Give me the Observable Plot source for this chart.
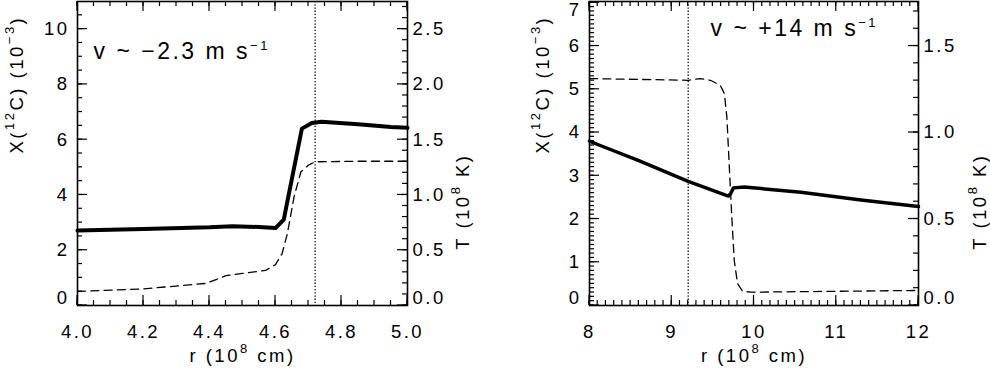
<!DOCTYPE html>
<html><head><meta charset="utf-8">
<script src="https://cdn.jsdelivr.net/npm/d3@7"></script>
<script src="https://cdn.jsdelivr.net/npm/@observablehq/plot@0.6"></script>
<style>
body{margin:0;background:#fff;}
#wrap{position:relative;width:990px;height:372px;overflow:hidden;}
#wrap > div{position:absolute;top:0;}
</style></head><body>
<div id="wrap"><div id="left" style="left:0"></div><div id="right" style="left:495px"></div></div>
<script>
// ---- data ----
const leftR_X = [4.00, 4.20, 4.40, 4.47, 4.55, 4.60, 4.625, 4.68, 4.71, 4.74, 4.85, 4.95, 5.00];
const leftX   = [2.71, 2.77, 2.83, 2.87, 2.84, 2.80, 3.11, 6.40, 6.60, 6.65, 6.56, 6.46, 6.43];
const leftR_T = [4.00, 4.20, 4.39, 4.45, 4.50, 4.57, 4.60, 4.62, 4.636, 4.656, 4.677, 4.70, 4.72, 4.85, 5.00];
const leftT   = [0.127, 0.150, 0.200, 0.270, 0.290, 0.317, 0.370, 0.470, 0.650, 0.980, 1.210, 1.270, 1.300, 1.305, 1.305];

const rightR_X = [8.00, 8.13, 8.60, 9.20, 9.63, 9.69, 9.72, 9.75, 9.88, 10.57, 11.30, 12.00];
const rightX   = [3.80, 3.70, 3.35, 2.87, 2.57, 2.53, 2.60, 2.72, 2.74, 2.62, 2.44, 2.29];
const rightR_T = [8.00, 9.20, 9.35, 9.47, 9.59, 9.64, 9.67, 9.70, 9.73, 9.76, 9.80, 9.86, 9.96, 12.00];
const rightT   = [1.312, 1.302, 1.312, 1.302, 1.273, 1.225, 1.090, 0.800, 0.510, 0.260, 0.126, 0.083, 0.077, 0.087];

const leftXTicks = [4.0, 4.2, 4.4, 4.6, 4.8, 5.0];
const rightXTicks = [8, 9, 10, 11, 12];
const leftYTicks = [0, 2, 4, 6, 8, 10];
const rightYTicks = [0, 1, 2, 3, 4, 5, 6, 7];
const leftTTicks = [0, 0.5, 1.0, 1.5, 2.0, 2.5];
const rightTTicks = [0, 0.5, 1.0, 1.5];

const leftVLine = 4.72;
const rightVLine = 9.2;
const leftNote = "v ~ \u22122.3 m s^{\u22121}";
const rightNote = "v ~ +14 m s^{\u22121}";
const xTitle = "r (10^{8} cm)";
const yTitle = "X(^{12}C) (10^{\u22123})";
const tTitle = "T (10^{8} K)";
const T_TO_X = 4; // right axis T is X/4

const FONT = "'Liberation Sans', Arial, Helvetica, sans-serif";
const FS = 18.5;

function applySup(svg) {
  d3.select(svg).selectAll("text").each(function () {
    const s = this.textContent;
    if (!s || !s.includes("^{")) return;
    const fs = parseFloat(this.getAttribute("font-size")) || parseFloat(getComputedStyle(this).fontSize) || 18;
    const parts = s.split(/(\^\{[^}]*\})/).filter(p => p.length);
    const el = d3.select(this);
    el.text(null);
    for (const p of parts) {
      if (p.startsWith("^{")) {
        el.append("tspan").attr("font-size", (fs * 0.72) + "px")
          .attr("baseline-shift", (fs * 0.5) + "px").text(p.slice(2, -1));
      } else {
        el.append("tspan").text(p);
      }
    }
  });
}

// inward IDL-style tick marks on all four sides, positioned by the plot's own scales
function addTicks(svg, c, box) {
  const sx = svg.scale("x"), sy = svg.scale("y");
  const g = d3.select(svg).append("g").attr("stroke", "black").attr("stroke-width", 1.2).attr("fill", "none");
  const seg = (a, b, p, q) => g.append("line").attr("x1", a).attr("y1", b).attr("x2", p).attr("y2", q);
  const xs = (vals, len) => vals.forEach(v => {
    const X = sx.apply(v);
    seg(X, box.bottom, X, box.bottom - len);
    seg(X, box.top, X, box.top + len);
  });
  const ysL = (vals, len) => vals.forEach(v => { const Y = sy.apply(v); seg(box.left, Y, box.left + len, Y); });
  const ysR = (vals, len) => vals.forEach(v => { const Y = sy.apply(v * T_TO_X); seg(box.right, Y, box.right - len, Y); });
  xs(c.xMinor, 5); xs(c.xTicks, 10);
  ysL(c.yMinor, 5); ysL(c.yTicks, 10);
  ysR(c.tMinor, 5); ysR(c.tTicks, 10);
}

function makePanel(c) {
  const H = 372, mt = 1, mb = 67;
  const [y0] = c.yDomain;
  const inner = c.yTicks.filter(d => d !== y0 && d !== c.yTopShift);
  const tVals = c.tTicks.map(t => t * T_TO_X);
  const xs = c.rX.map((r, i) => ({r, v: c.X[i]}));
  const ts = c.rT.map((r, i) => ({r, v: c.T[i] * T_TO_X}));
  const yFmt = d => String(d);
  const tFmt = d => (d / T_TO_X).toFixed(1);
  const axOpt = {tickSize: 0, fontSize: FS, label: null};
  const marks = [
    Plot.ruleX([c.vline], {x: d => d, strokeDasharray: "1.3,1.9", strokeWidth: 1.3}),
    Plot.line(ts, {x: "r", y: "v", strokeDasharray: "8,5.3", strokeWidth: 1.3}),
    Plot.line(xs, {x: "r", y: "v", strokeWidth: c.lw, strokeLinejoin: "round"}),
    Plot.frame({strokeWidth: 1.6}),
    Plot.axisX(c.xTicks, {...axOpt, tickFormat: c.xFmt, tickPadding: 19}),
    // left axis labels (IDL keeps the edge labels inside the axis extent)
    Plot.axisY(inner, {...axOpt, anchor: "left", tickFormat: yFmt, tickPadding: 8}),
    Plot.axisY([y0], {...axOpt, anchor: "left", tickFormat: yFmt, tickPadding: 8, dy: -7}),
    // right axis (temperature) labels
    Plot.axisY(tVals.filter(d => d !== y0), {...axOpt, anchor: "right", tickFormat: tFmt, tickPadding: 5}),
    Plot.axisY([y0], {...axOpt, anchor: "right", tickFormat: tFmt, tickPadding: 5, dy: -7}),
    Plot.text([xTitle], {text: d => d, frameAnchor: "bottom", dy: 56, fontSize: FS}),
    Plot.text([yTitle], {text: d => d, frameAnchor: "left", dx: c.yTitleDx, rotate: -90, fontSize: FS}),
    Plot.text([tTitle], {text: d => d, frameAnchor: "right", dx: c.tTitleDx, rotate: -90, fontSize: FS}),
    Plot.text([c.note], {text: d => d, frameAnchor: "top-left", dx: c.noteDx, dy: c.noteDy, lineAnchor: "bottom", textAnchor: "start", fontSize: 23})
  ];
  if (c.yTopShift != null) {
    marks.push(Plot.axisY([c.yTopShift], {...axOpt, anchor: "left", tickFormat: yFmt, tickPadding: 8, dy: 7}));
  }
  const svg = Plot.plot({
    width: c.width, height: H,
    marginLeft: c.ml, marginRight: c.mr, marginTop: mt, marginBottom: mb,
    x: {domain: c.xDomain}, y: {domain: c.yDomain},
    style: `font-family: ${FONT}; letter-spacing: 2.5px; background: white; color: black; overflow: visible;`,
    marks
  });
  addTicks(svg, c, {left: c.ml, right: c.width - c.mr, top: mt, bottom: H - mb});
  applySup(svg);
  return svg;
}

document.getElementById("left").appendChild(makePanel({
  width: 495, ml: 77, mr: 88,
  xDomain: [4, 5], yDomain: [0, 11],
  xTicks: leftXTicks, xMinor: d3.range(4, 5.0001, 0.05), xFmt: d3.format(".1f"),
  yTicks: leftYTicks, yMinor: d3.range(0, 11, 0.5),
  tTicks: leftTTicks, tMinor: d3.range(0, 2.75, 0.1),
  rX: leftR_X, X: leftX, rT: leftR_T, T: leftT,
  vline: leftVLine, note: leftNote, noteDx: 16, noteDy: 57,
  yTitleDx: -60, tTitleDx: 56, lw: 4, yTopShift: null
}));
document.getElementById("right").appendChild(makePanel({
  width: 495, ml: 94, mr: 72,
  xDomain: [8, 12], yDomain: [0, 7.03],
  xTicks: rightXTicks, xMinor: d3.range(8, 12.0001, 0.1), xFmt: d3.format("d"),
  yTicks: rightYTicks, yMinor: d3.range(0, 7.01, 0.1),
  tTicks: rightTTicks, tMinor: d3.range(0, 1.76, 0.1),
  rX: rightR_X, X: rightX, rT: rightR_T, T: rightT,
  vline: rightVLine, note: rightNote, noteDx: 121, noteDy: 34,
  yTitleDx: -46, tTitleDx: 62, lw: 3.5, yTopShift: 7
}));
</script>
</body></html>
